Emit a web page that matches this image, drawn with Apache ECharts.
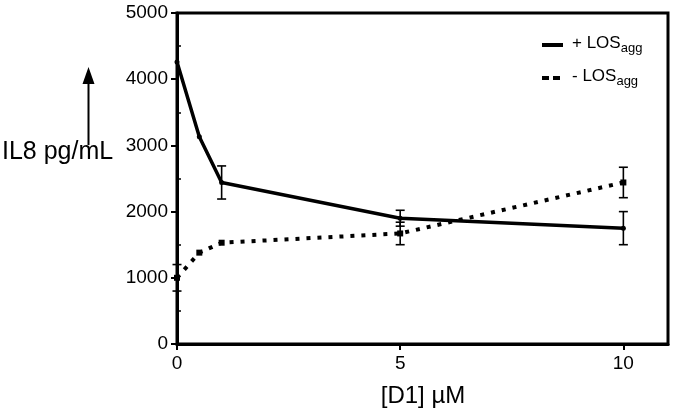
<!DOCTYPE html>
<html>
<head>
<meta charset="utf-8">
<script src="https://cdn.jsdelivr.net/npm/echarts@6/dist/echarts.min.js"></script>
<style>html,body{margin:0;padding:0;background:#fff}#c{width:675px;height:410px}</style>
</head>
<body>
<div id="c"></div>
<script>
// Data
var doses = [0, 0.5, 1, 5, 10];
var plusLOS = [4260, 3130, 2440, 1900, 1750];
var plusErr = [0, 0, 250, 120, 250];
var minusLOS = [1000, 1380, 1530, 1670, 2440];
var minusErr = [200, 0, 0, 170, 230];
var xTicks = [0, 5, 10];
var yMinorTicks = [500, 1500, 2500, 3500, 4500];

var FONT = 'Liberation Sans, Arial, Helvetica, sans-serif';

function pairs(xs, ys) { return xs.map(function (x, i) { return [x, ys[i]]; }); }
function errData(xs, ys, es) {
  var out = [];
  xs.forEach(function (x, i) { if (es[i] > 0) out.push([x, ys[i] - es[i], ys[i] + es[i]]); });
  return out;
}
function errRender(params, api) {
  var x = api.value(0);
  var lo = api.coord([x, api.value(1)]);
  var hi = api.coord([x, api.value(2)]);
  var w = 4.5;
  var st = { stroke: '#000', lineWidth: 1.6 };
  return {
    type: 'group',
    children: [
      { type: 'line', shape: { x1: lo[0], y1: lo[1], x2: hi[0], y2: hi[1] }, style: st },
      { type: 'line', shape: { x1: lo[0] - w, y1: lo[1], x2: lo[0] + w, y2: lo[1] }, style: st },
      { type: 'line', shape: { x1: hi[0] - w, y1: hi[1], x2: hi[0] + w, y2: hi[1] }, style: st }
    ]
  };
}

var chart = echarts.init(document.getElementById('c'), null, { renderer: 'canvas' });
chart.setOption({
  animation: false,
  backgroundColor: '#fff',
  grid: { left: 177, right: 7, top: 13, bottom: 66, show: true, borderColor: '#000', borderWidth: 3, backgroundColor: 'transparent' },
  xAxis: {
    type: 'value', min: 0, max: 11,
    axisLine: { show: true, lineStyle: { color: '#000', width: 3 } },
    axisTick: { show: true, length: 6, lineStyle: { color: '#000', width: 2 }, customValues: xTicks },
    axisLabel: { color: '#000', fontSize: 19, fontFamily: FONT, margin: 10, customValues: xTicks },
    splitLine: { show: false }
  },
  yAxis: [{
    type: 'value', min: 0, max: 5000, interval: 1000,
    axisLine: { show: true, lineStyle: { color: '#000', width: 3 } },
    axisTick: { show: true, length: 6, lineStyle: { color: '#000', width: 2 } },
    axisLabel: { color: '#000', fontSize: 19, fontFamily: FONT, margin: 9, formatter: function (v) { return String(v); } },
    splitLine: { show: false }
  }, {
    type: 'value', min: 0, max: 5000, position: 'left',
    axisLine: { show: false },
    axisTick: { show: true, inside: true, length: 4, lineStyle: { color: '#000', width: 1.5 }, customValues: yMinorTicks },
    axisLabel: { show: false },
    splitLine: { show: false }
  }],
  series: [{
    name: '+ LOSagg', type: 'line', data: pairs(doses, plusLOS),
    symbol: 'circle', symbolSize: 5, itemStyle: { color: '#000' },
    lineStyle: { color: '#000', width: 3.5 }, z: 3
  }, {
    name: '- LOSagg', type: 'line', data: pairs(doses, minusLOS),
    symbol: 'rect', symbolSize: 6, itemStyle: { color: '#000' },
    lineStyle: { color: '#000', width: 4, type: [4, 7] }, z: 3
  }, {
    type: 'custom', renderItem: errRender, data: errData(doses, plusLOS, plusErr), z: 4,
    encode: { x: 0, y: [1, 2] }
  }, {
    type: 'custom', renderItem: errRender, data: errData(doses, minusLOS, minusErr), z: 4,
    encode: { x: 0, y: [1, 2] }
  }],
  graphic: [
    // legend
    { type: 'line', shape: { x1: 542, y1: 45, x2: 563, y2: 45 }, style: { stroke: '#000', lineWidth: 4 } },
    { type: 'line', shape: { x1: 542, y1: 78, x2: 563, y2: 78 }, style: { stroke: '#000', lineWidth: 4, lineDash: [7, 4] } },
    { type: 'text', left: 572, top: 35, style: {
        text: '+ LOS{s|agg}', font: '17px ' + FONT, fill: '#000',
        rich: { s: { fontSize: 13, fontFamily: FONT, fill: '#000', padding: [9, 0, 0, 0] } } } },
    { type: 'text', left: 572, top: 68, style: {
        text: '- LOS{s|agg}', font: '17px ' + FONT, fill: '#000',
        rich: { s: { fontSize: 13, fontFamily: FONT, fill: '#000', padding: [9, 0, 0, 0] } } } },
    // y axis title with arrow
    { type: 'text', left: 2, top: 140, style: { text: 'IL8 pg/mL', font: '25px ' + FONT, fill: '#000' } },
    { type: 'line', shape: { x1: 88.5, y1: 145, x2: 88.5, y2: 80 }, style: { stroke: '#000', lineWidth: 2 } },
    { type: 'polygon', shape: { points: [[88.5, 67], [82.5, 84], [94.5, 84]] }, style: { fill: '#000' } },
    // x axis title
    { type: 'text', x: 423, y: 396, style: { text: '[D1] µM', font: '24px ' + FONT, fill: '#000', align: 'center', verticalAlign: 'middle' } }
  ]
});
</script>
</body>
</html>
